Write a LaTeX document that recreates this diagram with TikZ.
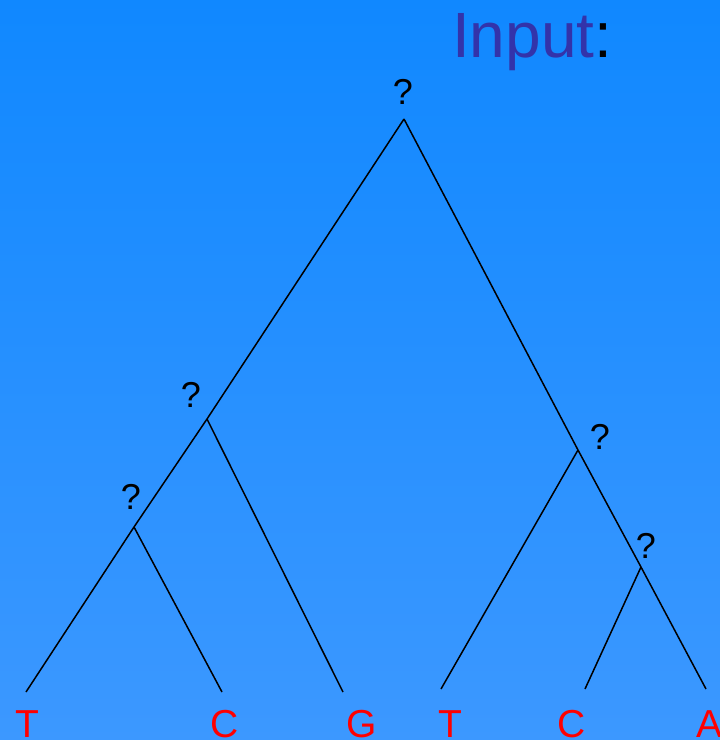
\documentclass[tikz,border=0pt]{standalone}
\usepackage{fontspec}
\setmainfont{Liberation Sans}
\definecolor{bgtop}{RGB}{16,136,255}
\definecolor{bgbot}{RGB}{60,152,255}
\definecolor{titleblue}{RGB}{51,51,170}
\tikzset{
  edge/.style={draw=black, line width=1.5pt},
  qmark/.style={font=\fontsize{36}{36}\selectfont, text=black, inner sep=0pt},
  leaf/.style={font=\fontsize{39}{39}\selectfont, text=red, inner sep=0pt, anchor=base}
}
\begin{document}
\begin{tikzpicture}[x=1pt,y=-1pt]
\shade[top color=bgtop, bottom color=bgbot] (0,0) rectangle (720,740);
\useasboundingbox (0,0) rectangle (720,740);
% title
\node[inner sep=0pt, anchor=base west] (title) at (452,57) {\fontsize{64}{64}\selectfont\color{titleblue}Input\color{black}:};
% internal points
\coordinate (root) at (404,119);
\coordinate (l1) at (207,419);
\coordinate (l2) at (134,527);
\coordinate (r1) at (578,450);
\coordinate (r2) at (641,567);
% leaf ends
\coordinate (eT1) at (26,692);
\coordinate (eC1) at (222,692);
\coordinate (eG) at (343,692);
\coordinate (eT2) at (441,689);
\coordinate (eC2) at (585,689);
\coordinate (eA) at (706,689);
% edges
\draw[edge] (root) -- (l1) -- (l2) -- (eT1);
\draw[edge] (l2) -- (eC1);
\draw[edge] (l1) -- (eG);
\draw[edge] (root) -- (r1) -- (r2) -- (eA);
\draw[edge] (r1) -- (eT2);
\draw[edge] (r2) -- (eC2);
% question marks
\node[qmark] (q0) at (403,92) {?};
\node[qmark] (q1) at (191,395) {?};
\node[qmark] (q2) at (131,497) {?};
\node[qmark] (q3) at (600,437) {?};
\node[qmark] (q4) at (646,546) {?};
% leaves
\node[leaf] (T1) at (27,737) {T};
\node[leaf] (C1) at (225,737) {C};
\node[leaf] (G) at (362,737) {G};
\node[leaf] (T2) at (450,737) {T};
\node[leaf] (C2) at (572,737) {C};
\node[leaf] (A) at (710,737) {A};
\end{tikzpicture}
\end{document}
